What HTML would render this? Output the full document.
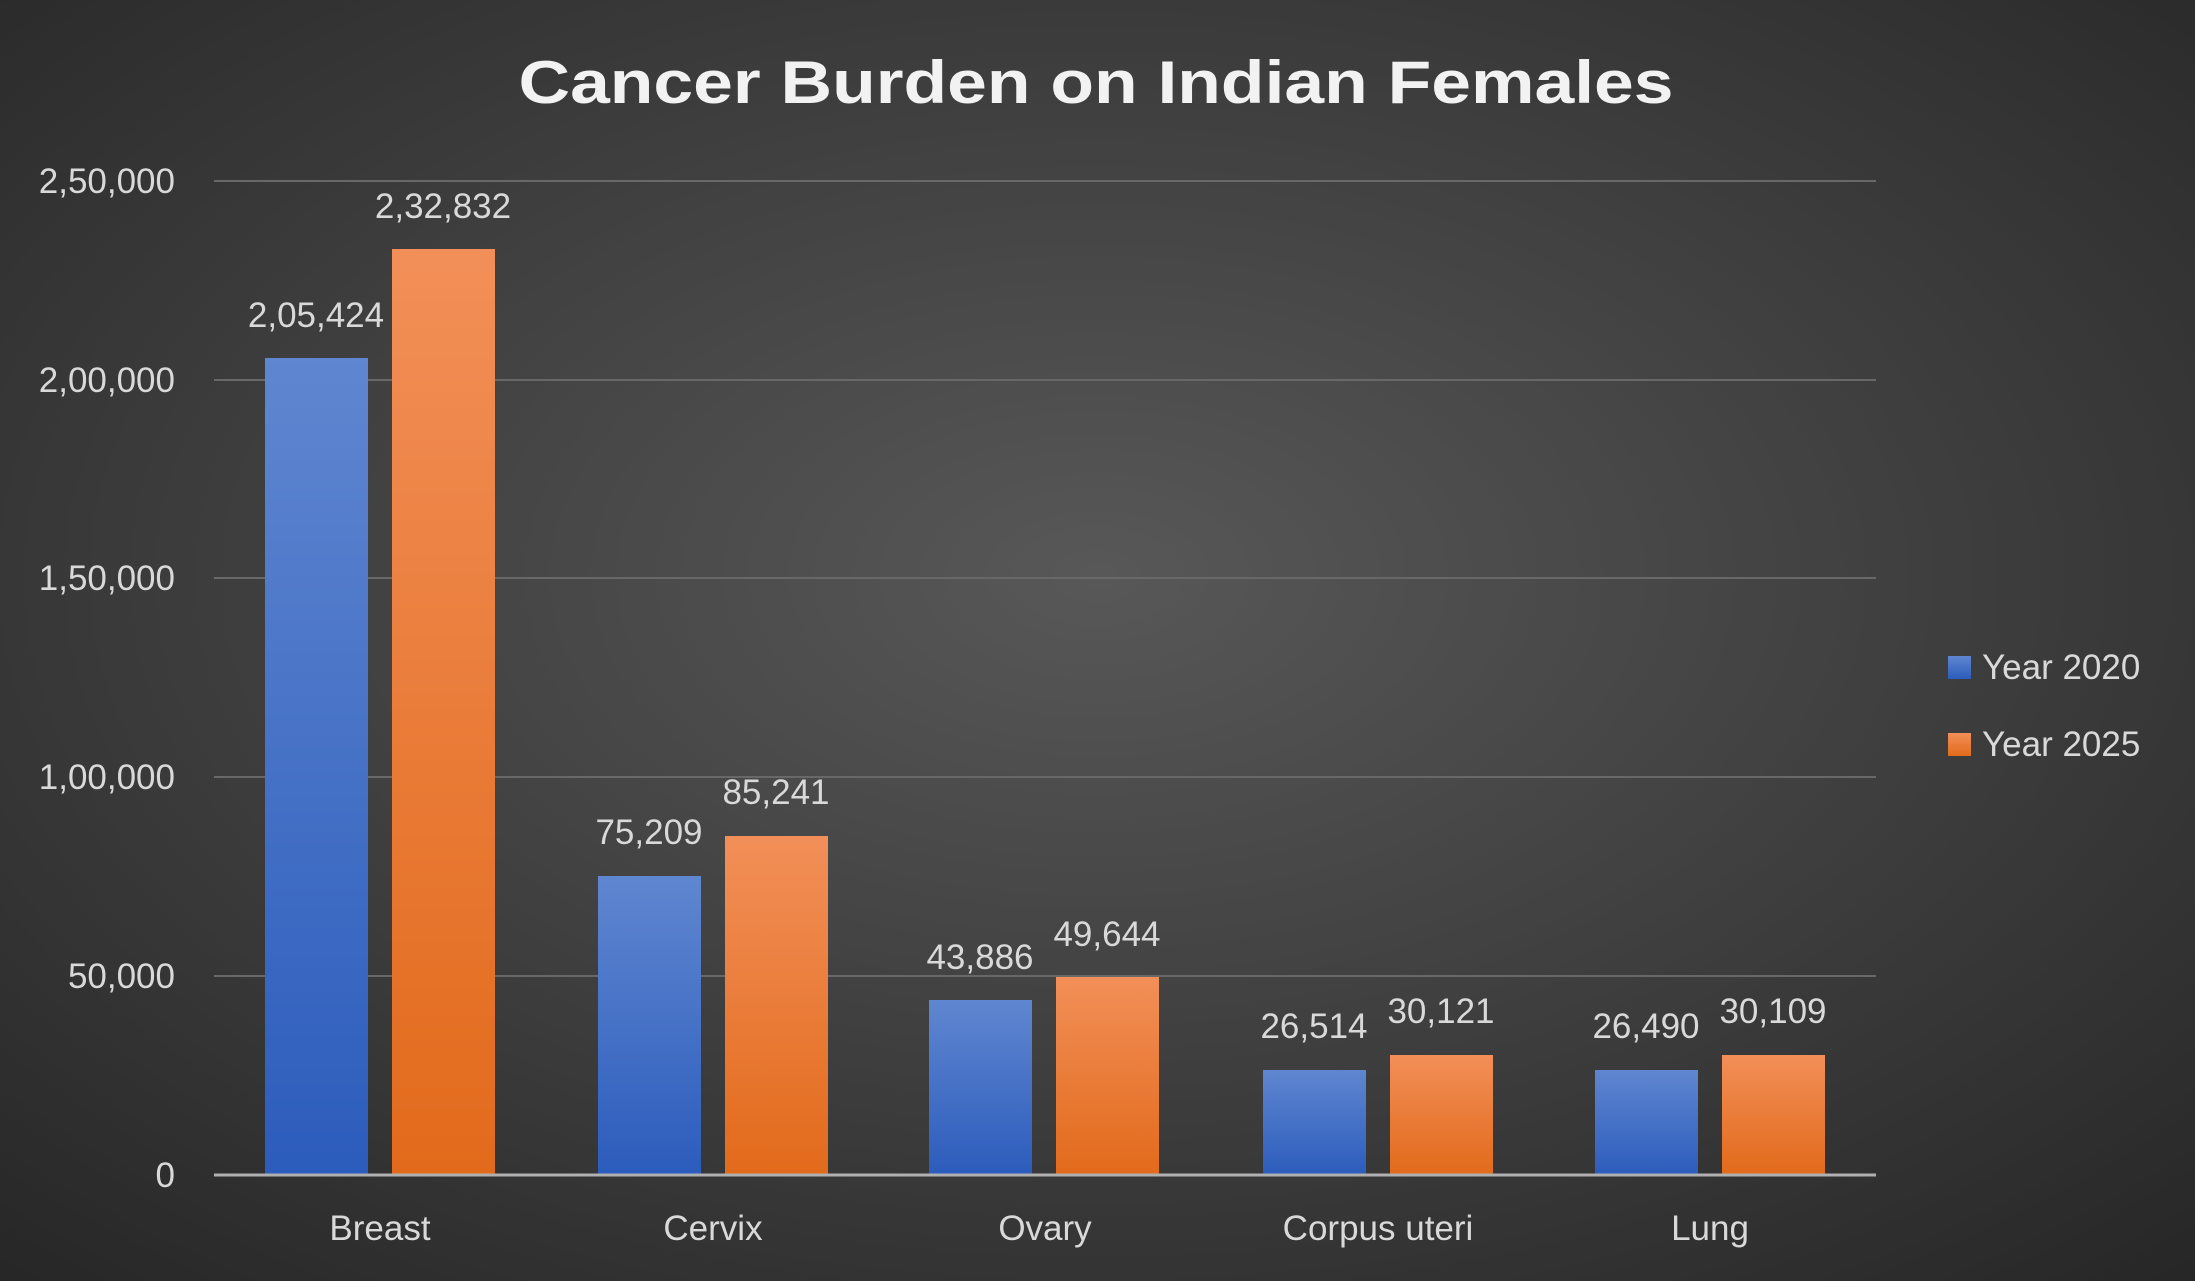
<!DOCTYPE html>
<html><head><meta charset="utf-8"><style>
html,body{margin:0;padding:0;background:#2e2e2e}
svg{display:block}
text{font-family:"Liberation Sans",sans-serif}
</style></head><body>
<svg width="2195" height="1281" viewBox="0 0 2195 1281" xmlns="http://www.w3.org/2000/svg">
<defs>
<radialGradient id="bg" cx="50%" cy="45%" r="75%">
<stop offset="0" stop-color="#585858"/><stop offset="1" stop-color="#262626"/>
</radialGradient>
<linearGradient id="bl" x1="0" y1="0" x2="0" y2="1"><stop offset="0" stop-color="#5f86d0"/><stop offset="1" stop-color="#2c5cbc"/></linearGradient>
<linearGradient id="or" x1="0" y1="0" x2="0" y2="1"><stop offset="0" stop-color="#f28f58"/><stop offset="1" stop-color="#e26a1b"/></linearGradient>
</defs>
<rect width="2195" height="1281" fill="url(#bg)"/>
<text x="1096" y="103" text-anchor="middle" font-size="60" font-weight="bold" fill="#f2f2f2" textLength="1155" lengthAdjust="spacingAndGlyphs">Cancer Burden on Indian Females</text>
<g stroke="#686868" stroke-width="2">
<line x1="214" x2="1876" y1="181" y2="181"/><line x1="214" x2="1876" y1="380" y2="380"/>
<line x1="214" x2="1876" y1="578" y2="578"/><line x1="214" x2="1876" y1="777" y2="777"/>
<line x1="214" x2="1876" y1="976" y2="976"/>
</g>
<g font-size="35" fill="#d9d9d9" text-anchor="end">
<text x="175" y="193">2,50,000</text><text x="175" y="392">2,00,000</text>
<text x="175" y="590">1,50,000</text><text x="175" y="789">1,00,000</text>
<text x="175" y="988">50,000</text><text x="175" y="1187">0</text>
</g>
<g>
<rect x="265" y="358" width="103" height="817" fill="url(#bl)"/>
<rect x="392" y="249" width="103" height="926" fill="url(#or)"/>
<rect x="598" y="876" width="103" height="299" fill="url(#bl)"/>
<rect x="725" y="836" width="103" height="339" fill="url(#or)"/>
<rect x="929" y="1000" width="103" height="175" fill="url(#bl)"/>
<rect x="1056" y="977" width="103" height="198" fill="url(#or)"/>
<rect x="1263" y="1070" width="103" height="105" fill="url(#bl)"/>
<rect x="1390" y="1055" width="103" height="120" fill="url(#or)"/>
<rect x="1595" y="1070" width="103" height="105" fill="url(#bl)"/>
<rect x="1722" y="1055" width="103" height="120" fill="url(#or)"/>
</g>
<line x1="214" x2="1876" y1="1175" y2="1175" stroke="#b0b0b0" stroke-width="3"/>
<g font-size="35" fill="#d9d9d9" text-anchor="middle">
<text x="316" y="327">2,05,424</text><text x="443" y="218">2,32,832</text>
<text x="649" y="844">75,209</text><text x="776" y="804">85,241</text>
<text x="980" y="969">43,886</text><text x="1107" y="946">49,644</text>
<text x="1314" y="1038">26,514</text><text x="1441" y="1023">30,121</text>
<text x="1646" y="1038">26,490</text><text x="1773" y="1023">30,109</text>
</g>
<g font-size="35" fill="#d9d9d9" text-anchor="middle">
<text x="380" y="1240">Breast</text><text x="713" y="1240">Cervix</text>
<text x="1045" y="1240">Ovary</text><text x="1378" y="1240">Corpus uteri</text>
<text x="1710" y="1240">Lung</text>
</g>
<rect x="1948" y="656" width="23" height="23" fill="url(#bl)"/>
<rect x="1948" y="733" width="23" height="23" fill="url(#or)"/>
<g font-size="35" fill="#d9d9d9">
<text x="1982" y="679">Year 2020</text><text x="1982" y="756">Year 2025</text>
</g>
</svg>
</body></html>
